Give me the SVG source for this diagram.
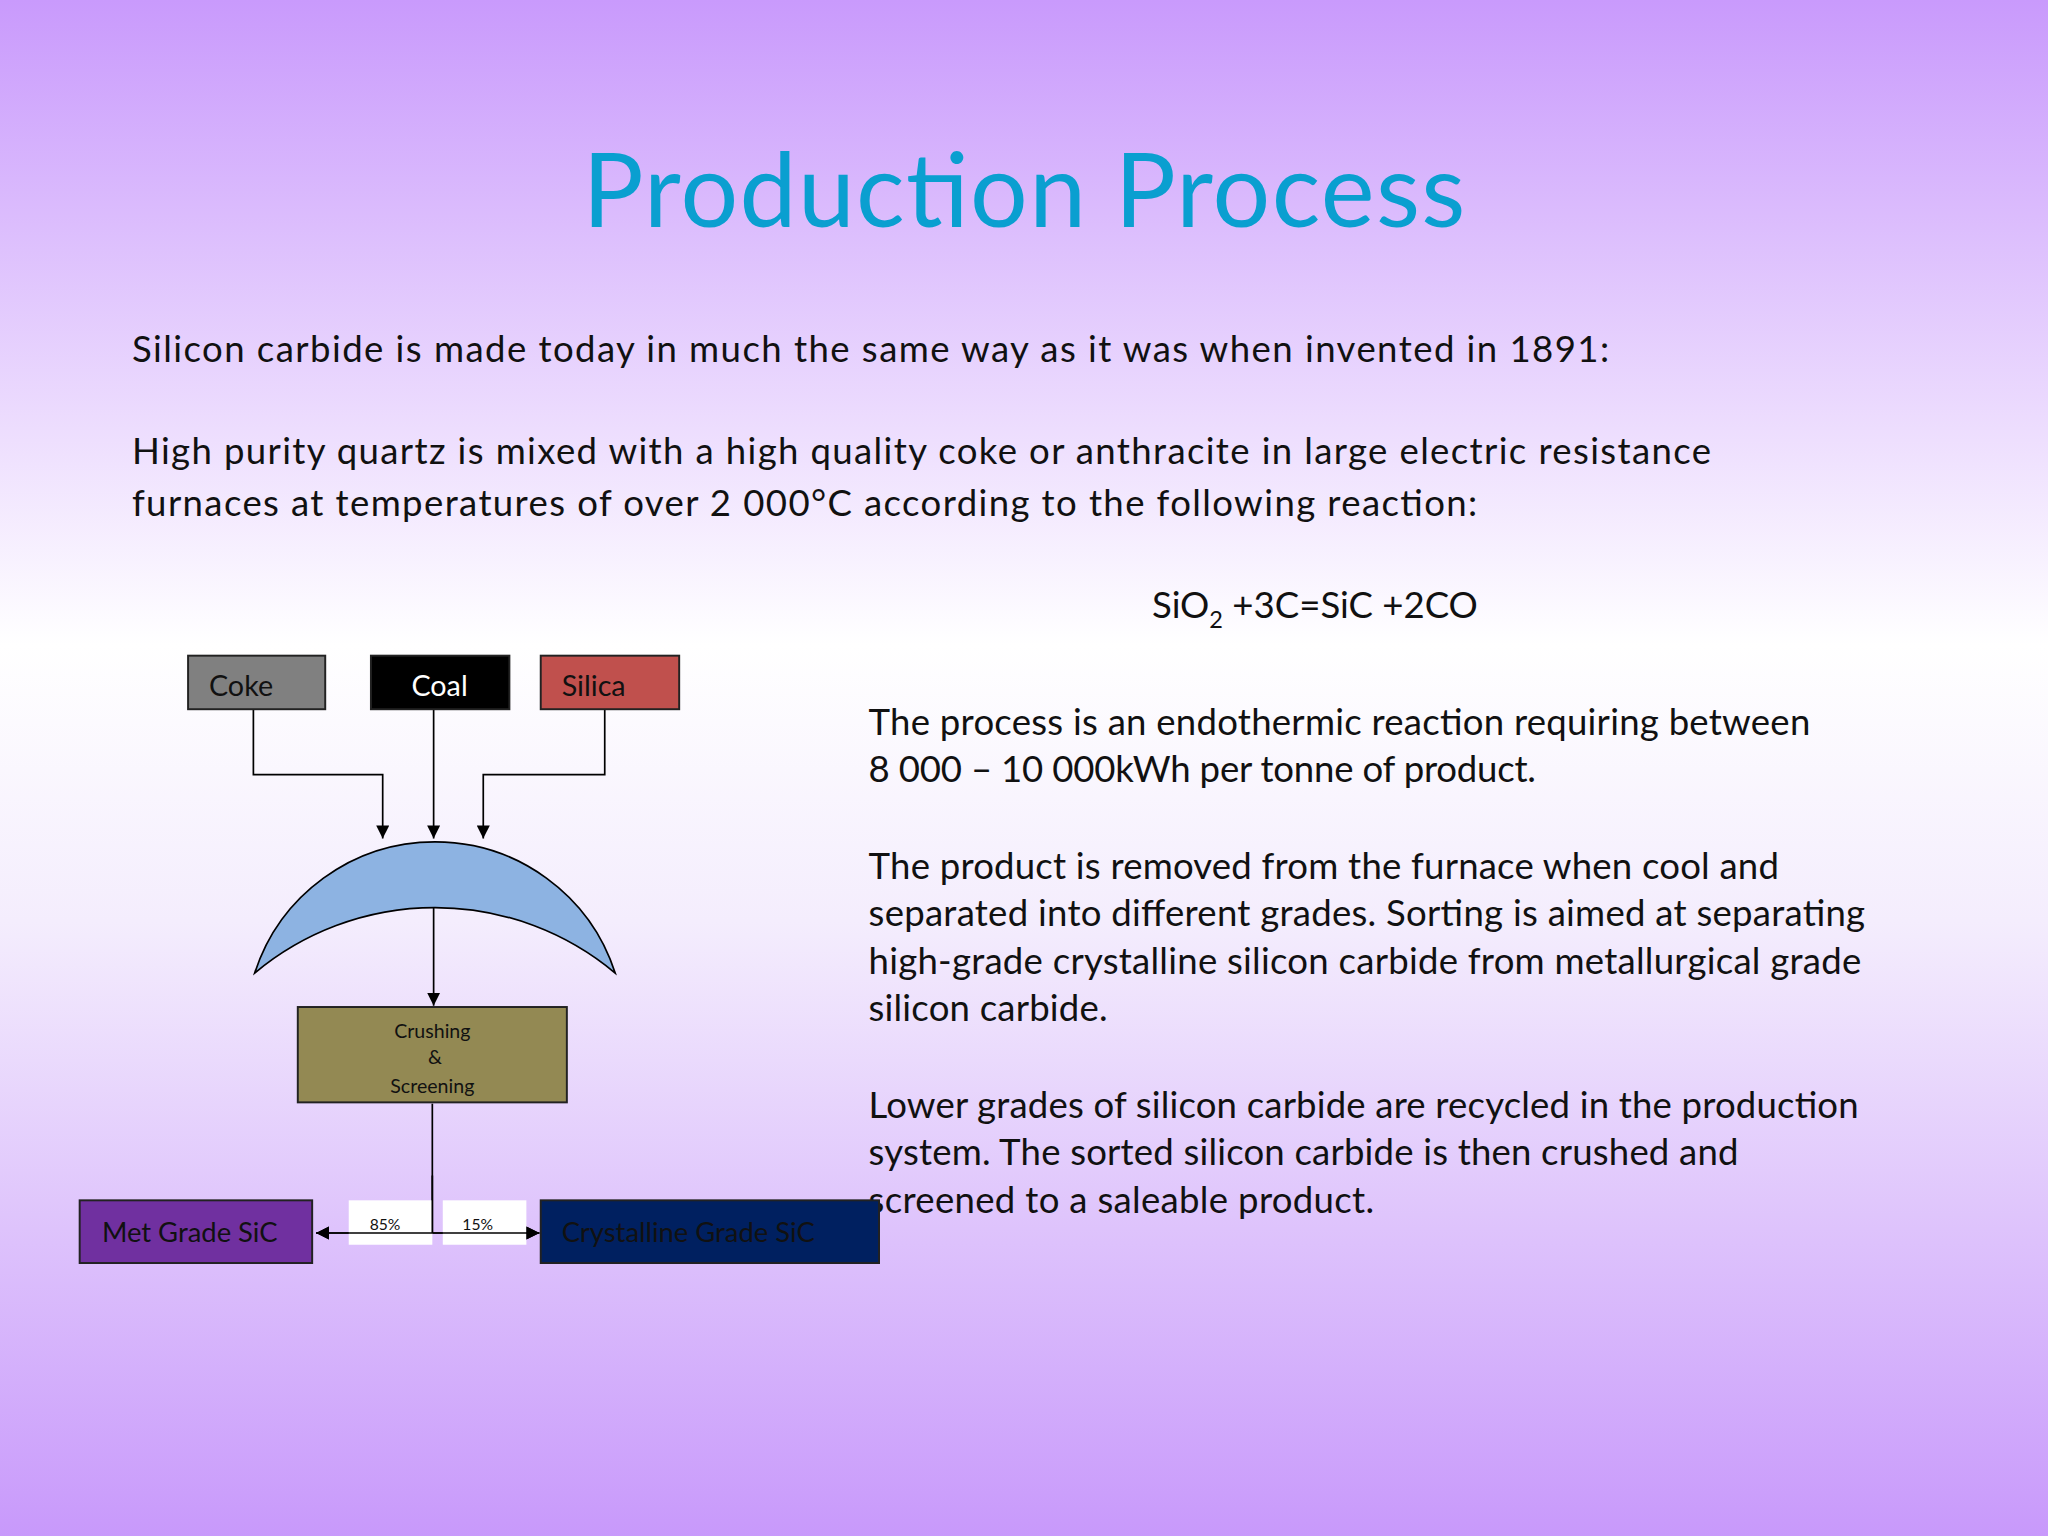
<svg xmlns="http://www.w3.org/2000/svg" width="2048" height="1536" viewBox="0 0 2048 1536">
<defs>
<linearGradient id="bg" x1="0" y1="0" x2="0" y2="1">
<stop offset="0" stop-color="#c99afc"/>
<stop offset="0.42" stop-color="#ffffff"/>
<stop offset="0.6" stop-color="#f4edfd"/>
<stop offset="1" stop-color="#c899fb"/>
</linearGradient>
<marker id="ah" viewBox="0 0 10 10" refX="10" refY="5" markerWidth="10" markerHeight="10" markerUnits="userSpaceOnUse" orient="auto"><path d="M0,0 L10,5 L0,10 z" fill="#000"/></marker>
<style>
.t{font-family:Lato,"Open Sans",sans-serif;fill:#111}
.b{font-size:28px}
.n{stroke:#222;stroke-width:1.5}
.c{fill:none;stroke:#000;stroke-width:1.3}
</style>
</defs>
<rect width="2048" height="1536" fill="url(#bg)"/>
<g transform="scale(1.30612)">
<text class="t" x="784" y="174" font-size="78" fill="#0aa0d0" style="fill:#0a9fd0" text-anchor="middle" textLength="676">Production Process</text>
<text class="t b" x="101" y="277" textLength="1131">Silicon carbide is made today in much the same way as it was when invented in 1891:</text>
<text class="t b" x="101" y="355" textLength="1209">High purity quartz is mixed with a high quality coke or anthracite in large electric resistance</text>
<text class="t b" x="101" y="395" textLength="1030">furnaces at temperatures of over 2 000°C according to the following reaction:</text>
<text class="t b" x="882" y="473">SiO<tspan font-size="18" dy="8">2</tspan><tspan dy="-8"> +3C=SiC +2CO</tspan></text>
<text class="t b" x="665" y="563" textLength="721">The process is an endothermic reaction requiring between</text>
<text class="t b" x="665" y="599" textLength="511">8 000 – 10 000kWh per tonne of product.</text>
<text class="t b" x="665" y="673" textLength="697">The product is removed from the furnace when cool and</text>
<text class="t b" x="665" y="709" textLength="763">separated into different grades. Sorting is aimed at separating</text>
<text class="t b" x="665" y="746" textLength="760">high-grade crystalline silicon carbide from metallurgical grade</text>
<text class="t b" x="665" y="782" textLength="183">silicon carbide.</text>
<text class="t b" x="665" y="856" textLength="758">Lower grades of silicon carbide are recycled in the production</text>
<text class="t b" x="665" y="892" textLength="666">system. The sorted silicon carbide is then crushed and</text>
<text class="t b" x="665" y="929" textLength="387">screened to a saleable product.</text>

<g id="connectors">
<polyline class="c" points="194,543 194,593 293,593 293,642" marker-end="url(#ah)"/>
<line class="c" x1="332" y1="543" x2="332" y2="642" marker-end="url(#ah)"/>
<polyline class="c" points="463,543 463,593 370,593 370,642" marker-end="url(#ah)"/>
<line class="c" x1="332" y1="694" x2="332" y2="770" marker-end="url(#ah)"/>
<line class="c" x1="331" y1="845" x2="331" y2="944"/>
<line class="c" x1="331" y1="944" x2="242" y2="944" marker-end="url(#ah)"/>
<line class="c" x1="331" y1="944" x2="413" y2="944" marker-end="url(#ah)"/>
</g>
<g id="coke"><rect class="n" x="144" y="502" width="105" height="41" fill="#808080"/><text class="t" x="160" y="533" font-size="22">Coke</text></g>
<g id="coal"><rect class="n" x="284" y="502" width="106" height="41" fill="#000"/><text class="t" x="315" y="533" font-size="22" style="fill:#fff">Coal</text></g>
<g id="silica"><rect class="n" x="414" y="502" width="106" height="41" fill="#c0504d"/><text class="t" x="430" y="533" font-size="22">Silica</text></g>
<g id="furnace"><path d="M195,745 A145,145 0 0 1 471,745 A215,215 0 0 0 195,745 Z" fill="#8db3e2" stroke="#000" stroke-width="1.3"/></g>
<g id="crushing"><rect class="n" x="228" y="771" width="206" height="73" fill="#938953"/>
<text class="t" font-size="15" text-anchor="middle"><tspan x="331" y="795">Crushing</tspan><tspan x="333" y="815">&amp;</tspan><tspan x="331" y="837">Screening</tspan></text></g>
<g id="met"><rect class="n" x="61" y="919" width="178" height="48" fill="#7030a0"/><text class="t" x="78" y="951" font-size="21">Met Grade SiC</text></g>
<g id="cryst"><rect class="n" x="414" y="919" width="259" height="48" fill="#002060"/><text class="t" x="430" y="951" font-size="21">Crystalline Grade SiC</text></g>
<g id="lbl85"><rect x="267" y="919" width="64" height="34" fill="#fff"/><text class="t" x="283" y="942" font-size="12">85%</text></g>
<g id="lbl15"><rect x="339" y="919" width="64" height="34" fill="#fff"/><text class="t" x="354" y="942" font-size="12">15%</text></g>
<line class="c" x1="331" y1="944" x2="242" y2="944" marker-end="url(#ah)"/>
<line class="c" x1="331" y1="944" x2="413" y2="944" marker-end="url(#ah)"/>
<line class="c" x1="331" y1="900" x2="331" y2="944"/>
</g>
</svg>
